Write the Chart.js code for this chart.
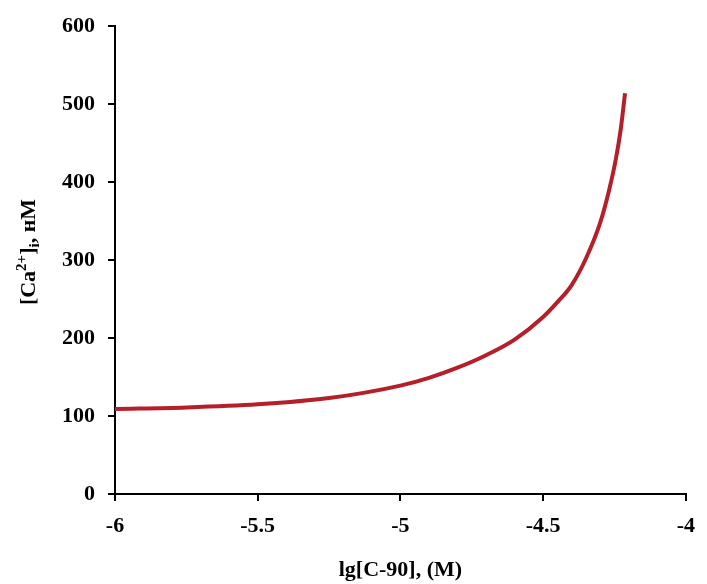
<!DOCTYPE html>
<html>
<head>
<meta charset="utf-8">
<script src="https://cdn.jsdelivr.net/npm/chart.js@4"></script>
<style>
  html, body { margin: 0; padding: 0; background: #fff; }
  #wrap { width: 707px; height: 584px; }
</style>
</head>
<body>
<div id="wrap"><canvas id="chart" width="707" height="584"></canvas></div>
<script>
// lg concentration and [Ca2+]i values
const logConc = [-6, -5.75, -5.5, -5.25, -5.0, -4.9, -4.8, -4.7, -4.6, -4.5, -4.45, -4.4, -4.35, -4.3, -4.27, -4.245, -4.228, -4.213];
const calcium = [109, 111, 115, 123, 139, 149, 162, 178, 198, 227, 246, 268, 302, 348, 388, 430, 468, 514];
const xTicks = [-6, -5.5, -5, -4.5, -4];
const yTicks = [0, 100, 200, 300, 400, 500, 600];

const font = { family: "'Liberation Serif', 'Times New Roman', serif", size: 22, weight: "bold" };

// y title with superscript / subscript
const yTitle = {
  id: "yTitle",
  afterDraw(chart) {
    const c = chart.ctx;
    c.save();
    c.translate(27, 252);
    c.rotate(-Math.PI / 2);
    c.fillStyle = "#000";
    c.textBaseline = "alphabetic";
    const big = "bold 22px 'Liberation Serif', serif";
    const small = "bold 15px 'Liberation Serif', serif";
    const parts = [
      ["[Ca", big, 0], ["2+", small, -9], ["]", big, 0], ["i", small, 4], [", нМ", big, 0]
    ];
    let w = 0;
    parts.forEach(p => { c.font = p[1]; w += c.measureText(p[0]).width; });
    let x = -w / 2;
    parts.forEach(p => {
      c.font = p[1];
      c.fillText(p[0], x, 8 + p[2]);
      x += c.measureText(p[0]).width;
    });
    c.restore();
  }
};

new Chart(document.getElementById("chart"), {
  type: "line",
  data: {
    datasets: [{
      data: logConc.map((x, i) => ({ x: x, y: calcium[i] })),
      borderColor: "#b51f2a",
      borderWidth: 4,
      pointRadius: 0,
      fill: false,
      cubicInterpolationMode: "monotone"
    }]
  },
  options: {
    responsive: false,
    animation: false,
    layout: { padding: { top: 22, right: 15, left: 0, bottom: 0 } },
    plugins: { legend: { display: false }, tooltip: { enabled: false } },
    scales: {
      x: {
        type: "linear",
        min: -6,
        max: -4,
        afterBuildTicks: s => { s.ticks = xTicks.map(v => ({ value: v })); },
        afterFit: s => { s.height = 90; },
        border: { color: "#000", width: 2 },
        grid: { drawOnChartArea: false, drawTicks: true, tickLength: 7, color: "#000", lineWidth: 2 },
        ticks: { color: "#000", font: font, padding: 12, maxRotation: 0, callback: v => String(v) },
        title: { display: true, text: "lg[C-90], (M)", color: "#000", font: font, padding: { top: 0, bottom: 0 } }
      },
      y: {
        min: 0,
        max: 600,
        afterBuildTicks: s => { s.ticks = yTicks.map(v => ({ value: v })); },
        afterFit: s => { s.width = 115; },
        border: { color: "#000", width: 2 },
        grid: { drawOnChartArea: false, drawTicks: true, tickLength: 7, color: "#000", lineWidth: 2 },
        ticks: { color: "#000", font: font, padding: 13 }
      }
    }
  },
  plugins: [yTitle]
});
</script>
</body>
</html>
